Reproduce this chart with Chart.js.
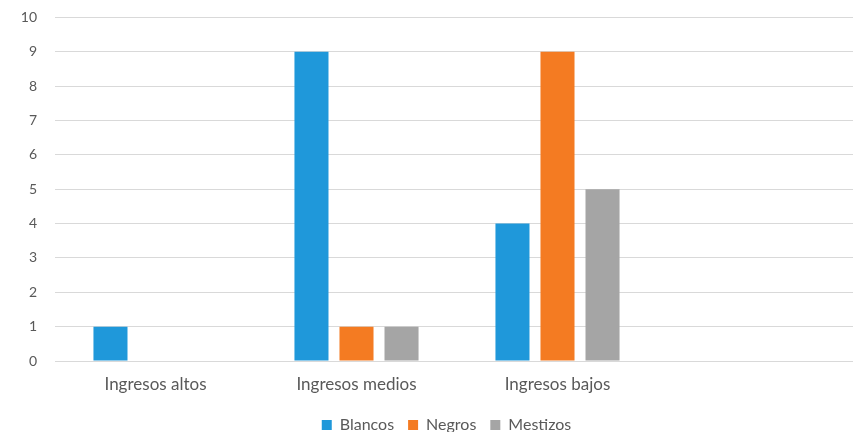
<!DOCTYPE html>
<html>
<head>
<meta charset="utf-8">
<script src="https://cdn.jsdelivr.net/npm/chart.js@4/dist/chart.umd.min.js"></script>
<style>
  html, body { margin: 0; padding: 0; background: #fff; overflow: hidden; }
  #wrap { position: absolute; left: 0; top: -9px; width: 862px; height: 441px; }
</style>
</head>
<body>
<div id="wrap"><canvas id="c" width="862" height="441"></canvas></div>
<script>
// Categories (the last slot is an empty group on the right)
const categories = ['Ingresos altos', 'Ingresos medios', 'Ingresos bajos', ''];
const blancos  = [1, 9, 4, null];
const negros   = [null, 1, 9, null];
const mestizos = [null, 1, 5, null];
const yTicks = [0, 1, 2, 3, 4, 5, 6, 7, 8, 9, 10];

const textColor = '#595959';
const fontFamily = 'Lato, "Open Sans", sans-serif';

// Nudge the legend row to the right so it sits under the plotted groups
const legendShift = {
  id: 'legendShift',
  afterLayout(chart) {
    if (chart.legend) { chart.legend.left += 17; chart.legend.right += 17; }
  }
};

new Chart(document.getElementById('c'), {
  type: 'bar',
  data: {
    labels: categories,
    datasets: [
      { label: 'Blancos',  data: blancos,  backgroundColor: '#1f98da' },
      { label: 'Negros',   data: negros,   backgroundColor: '#f47b22' },
      { label: 'Mestizos', data: mestizos, backgroundColor: '#a5a5a5' }
    ]
  },
  plugins: [legendShift],
  options: {
    responsive: false,
    animation: false,
    layout: { padding: { top: 0, right: 3, left: 0, bottom: -11 } },
    datasets: { bar: { categoryPercentage: 0.672, barPercentage: 0.756 } },
    plugins: {
      legend: {
        position: 'bottom',
        labels: {
          boxWidth: 10, boxHeight: 10, padding: 14,
          color: textColor,
          font: { family: fontFamily, size: 16 }
        }
      },
      tooltip: { enabled: false }
    },
    scales: {
      x: {
        afterFit: s => { s.height = 42; },
        grid: { display: false },
        border: { display: false },
        ticks: { color: textColor, padding: 5, font: { family: fontFamily, size: 17 } }
      },
      y: {
        min: 0, max: 10,
        afterFit: s => { s.width = 55; },
        afterBuildTicks: s => { s.ticks = yTicks.map(v => ({ value: v })); },
        grid: { color: '#d9d9d9', lineWidth: 1, drawTicks: false },
        border: { display: false },
        ticks: { color: textColor, padding: 18, font: { family: fontFamily, size: 14 } }
      }
    }
  }
});
</script>
</body>
</html>
